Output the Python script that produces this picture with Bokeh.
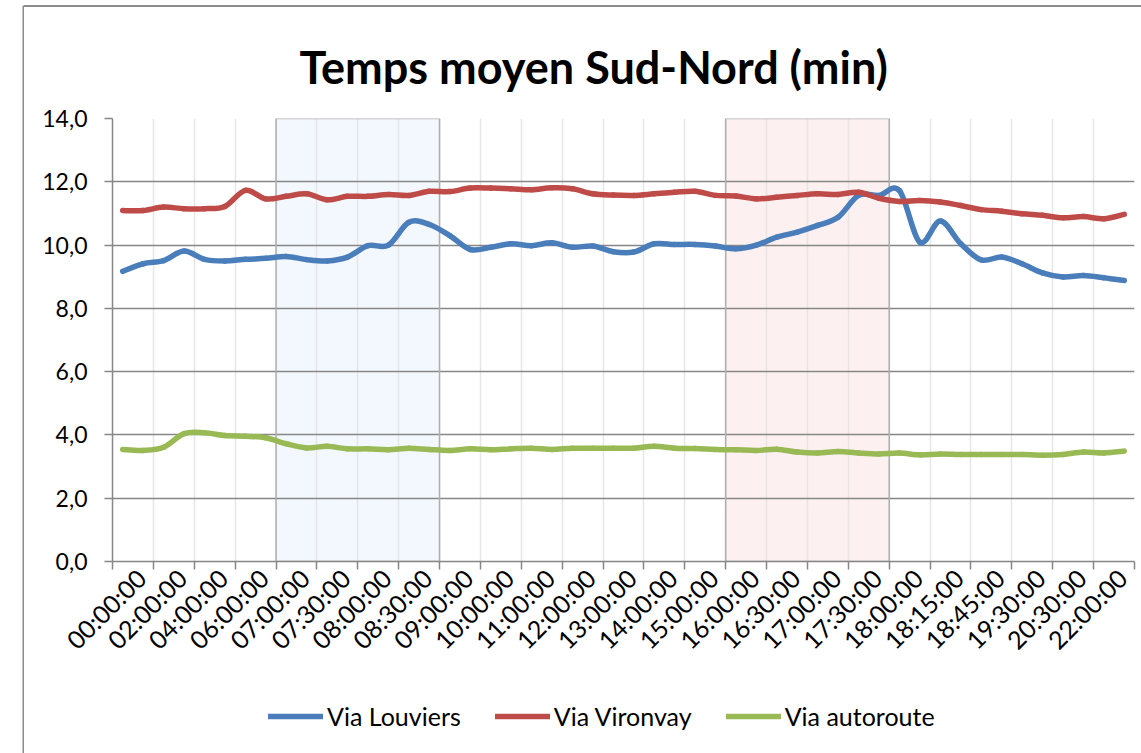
import numpy as np
from math import pi
from bokeh.plotting import figure
from bokeh.layouts import column, row
from bokeh.models import FixedTicker, Range1d, Legend, LegendItem, Spacer
from bokeh.embed import file_html
from bokeh.resources import INLINE

# ---------------- data ----------------
categories = ["00:00:00", "01:00:00", "02:00:00", "03:00:00", "04:00:00", "05:00:00",
              "06:00:00", "06:30:00", "07:00:00", "07:15:00", "07:30:00", "07:45:00",
              "08:00:00", "08:15:00", "08:30:00", "08:45:00", "09:00:00", "09:30:00",
              "10:00:00", "10:30:00", "11:00:00", "11:30:00", "12:00:00", "12:30:00",
              "13:00:00", "13:30:00", "14:00:00", "14:30:00", "15:00:00", "15:30:00",
              "16:00:00", "16:15:00", "16:30:00", "16:45:00", "17:00:00", "17:15:00",
              "17:30:00", "17:45:00", "18:00:00", "18:10:00", "18:15:00", "18:30:00",
              "18:45:00", "19:00:00", "19:30:00", "20:00:00", "20:30:00", "21:00:00",
              "22:00:00", "23:00:00"]

louviers = [9.17, 9.41, 9.51, 9.81, 9.55, 9.50, 9.55, 9.58, 9.64, 9.54,
            9.50, 9.62, 9.98, 10.00, 10.72, 10.65, 10.30, 9.86, 9.93, 10.04,
            9.98, 10.07, 9.93, 9.97, 9.79, 9.78, 10.04, 10.02, 10.02, 9.97,
            9.88, 10.00, 10.25, 10.41, 10.62, 10.88, 11.57, 11.57, 11.72, 10.09,
            10.76, 10.04, 9.53, 9.62, 9.41, 9.12, 8.99, 9.04, 8.97, 8.88]

vironvay = [11.09, 11.09, 11.20, 11.15, 11.15, 11.22, 11.73, 11.46, 11.54, 11.62,
            11.43, 11.54, 11.54, 11.60, 11.57, 11.70, 11.69, 11.80, 11.80, 11.78,
            11.75, 11.81, 11.78, 11.62, 11.58, 11.57, 11.62, 11.67, 11.70, 11.57,
            11.55, 11.46, 11.51, 11.57, 11.62, 11.60, 11.67, 11.48, 11.38, 11.41,
            11.36, 11.25, 11.12, 11.07, 10.99, 10.94, 10.86, 10.90, 10.83, 10.97]

autoroute = [3.54, 3.51, 3.61, 4.04, 4.07, 3.98, 3.96, 3.91, 3.72, 3.59,
             3.64, 3.56, 3.56, 3.53, 3.58, 3.54, 3.51, 3.56, 3.53, 3.56,
             3.58, 3.54, 3.58, 3.58, 3.58, 3.58, 3.64, 3.58, 3.57, 3.54,
             3.53, 3.51, 3.55, 3.46, 3.43, 3.48, 3.43, 3.40, 3.43, 3.37,
             3.40, 3.38, 3.38, 3.38, 3.38, 3.36, 3.38, 3.46, 3.43, 3.49]

series_names = ["Via Louviers", "Via Vironvay", "Via autoroute"]
y_ticks = [0, 2, 4, 6, 8, 10, 12, 14]
y_tick_labels = ["0,0", "2,0", "4,0", "6,0", "8,0", "10,0", "12,0", "14,0"]
am_peak = ("07:00:00", "08:45:00")
pm_peak = ("16:00:00", "17:45:00")
title_text = "Temps moyen Sud-Nord (min)"

# ---------------- styles / layout ----------------
FONT = "Lato"
colors = ["#4A7EBB", "#BE4B48", "#98B954"]
GRID_DARK = "#868686"
GRID_LIGHT = "#E6E6E6"
BORDER_COLOR = "#8C8C8C"
LEFT_STRIP = 24   # white gap + 2px outer chart border on the left
TOP_GAP = 5       # white gap above the top outer border
TOP_LINE = 2      # top outer border thickness
W = 1117          # width of the chart column
H_MAIN = 673
H_LEG = 73
LINE_W = 5.5

n = len(categories)
xs = np.arange(n, dtype=float)


def blank_fig(width, height, **kw):
    f = figure(width=width, height=height, output_backend="svg", toolbar_location=None,
               title=None, x_range=Range1d(0, 1), y_range=Range1d(0, 1),
               x_axis_location=None, y_axis_location=None,
               min_border=0, min_border_left=0, min_border_right=0,
               min_border_top=0, min_border_bottom=0,
               outline_line_color=None, border_fill_color="white", **kw)
    f.grid.visible = False
    return f


p = figure(width=W, height=H_MAIN, output_backend="svg", toolbar_location=None,
           x_range=Range1d(-0.5, n - 0.5), y_range=Range1d(y_ticks[0], y_ticks[-1]),
           min_border_left=88, min_border_right=7, min_border_top=111,
           min_border_bottom=119, background_fill_color="white",
           border_fill_color="white", outline_line_color=None)

# title
p.title.text = title_text
p.title.text_font = FONT
p.title.text_font_size = "45px"
p.title.text_font_style = "bold"
p.title.text_color = "black"
p.title.align = "left"
p.title.offset = 187
p.title.standoff = 50

# y axis
p.yaxis.ticker = FixedTicker(ticks=y_ticks)
p.yaxis.major_label_overrides = dict(zip(y_ticks, y_tick_labels))
p.yaxis.major_label_text_font = FONT
p.yaxis.major_label_text_font_size = "23px"
p.yaxis.major_label_text_color = "black"
p.yaxis.axis_line_color = GRID_DARK
p.yaxis.axis_line_width = 1.5
p.yaxis.major_tick_line_color = GRID_DARK
p.yaxis.major_tick_line_width = 1.5
p.yaxis.major_tick_out = 8
p.yaxis.major_tick_in = 0
p.yaxis.minor_tick_line_color = None
p.yaxis.major_label_standoff = 17

# x axis: a label every second category, tick marks between category pairs
label_idx = list(range(0, n, 2))
label_pos = [i + 0.9 for i in label_idx]
boundaries = [i - 0.5 for i in range(0, n + 1, 2)]
xaxis = p.xaxis[0]
xaxis.ticker = FixedTicker(ticks=label_pos, minor_ticks=boundaries)
xaxis.major_label_overrides = {pos: categories[i] for pos, i in zip(label_pos, label_idx)}
xaxis.major_label_orientation = pi / 4
xaxis.major_label_text_font = FONT
xaxis.major_label_text_font_size = "25px"
xaxis.major_label_text_color = "black"
xaxis.major_tick_line_color = None
xaxis.major_tick_out = 0
xaxis.major_tick_in = 0
xaxis.minor_tick_line_color = GRID_DARK
xaxis.minor_tick_line_width = 1.5
xaxis.minor_tick_out = 8
xaxis.minor_tick_in = 0
xaxis.major_label_standoff = 4
xaxis.axis_line_color = GRID_DARK
xaxis.axis_line_width = 1.5

# grids
p.ygrid.ticker = FixedTicker(ticks=y_ticks)
p.ygrid.grid_line_color = GRID_DARK
p.ygrid.grid_line_width = 1.5
p.xgrid.ticker = FixedTicker(ticks=boundaries)
p.xgrid.grid_line_color = GRID_LIGHT
p.xgrid.grid_line_width = 1.5

# shaded peak periods
for (start, end), fill in [(am_peak, "#F3F8FE"), (pm_peak, "#FCF0F0")]:
    l = categories.index(start) - 0.5
    r = categories.index(end) + 0.5
    p.quad(left=[l], right=[r], bottom=[y_ticks[0]], top=[y_ticks[-1]],
           fill_color=fill, line_color=None, level="image")
    p.quad(left=[l], right=[r], bottom=[y_ticks[0]], top=[y_ticks[-1]],
           fill_color=None, line_color="#AFAFAF", line_width=1.5)


# smoothed lines (Excel-like smoothing) via bezier segments
def bezier_args(vals):
    v = np.asarray(vals, dtype=float)
    m = len(v)
    pv = np.concatenate([[v[0]], v, [v[-1]]])
    px = np.concatenate([[xs[0]], xs, [xs[-1]]])
    return dict(
        x0=px[1:m], y0=pv[1:m],
        x1=px[2:m + 1], y1=pv[2:m + 1],
        cx0=px[1:m] + (px[2:m + 1] - px[0:m - 1]) / 6.0,
        cy0=pv[1:m] + (pv[2:m + 1] - pv[0:m - 1]) / 6.0,
        cx1=px[2:m + 1] - (px[3:m + 2] - px[1:m]) / 6.0,
        cy1=pv[2:m + 1] - (pv[3:m + 2] - pv[1:m]) / 6.0,
    )


all_series = [louviers, vironvay, autoroute]
for vals, col in zip(all_series, colors):
    p.bezier(line_color=col, line_width=LINE_W, line_cap="round", **bezier_args(vals))

# ---------------- legend strip below the chart ----------------
pl = blank_fig(W, H_LEG, background_fill_color="white")
# same series, outside this strip's view: they only give the legend its glyphs
leg_renderers = [pl.line(x=xs, y=vals, line_color=col, line_width=LINE_W, line_cap="round")
                 for vals, col in zip(all_series, colors)]
legend = Legend(items=[LegendItem(label=nm, renderers=[r])
                       for nm, r in zip(series_names, leg_renderers)],
                location=(156, 22), orientation="horizontal",
                glyph_width=55, glyph_height=24, label_height=24, label_standoff=4,
                spacing=34, padding=0, margin=0, border_line_color=None,
                background_fill_alpha=0, label_text_font=FONT,
                label_text_font_size="25px", label_text_color="black")
pl.add_layout(legend)

# ---------------- outer chart border (left and top edges) ----------------
left_strip = blank_fig(LEFT_STRIP, TOP_GAP + TOP_LINE + H_MAIN + H_LEG,
                       background_fill_color=BORDER_COLOR)
left_strip.min_border_left = LEFT_STRIP - 2
left_strip.min_border_top = TOP_GAP
top_gap = Spacer(width=W, height=TOP_GAP)
top_line = Spacer(width=W, height=TOP_LINE, styles={"background-color": BORDER_COLOR})

layout = row(left_strip, column(top_gap, top_line, p, pl, spacing=0), spacing=0)
open("out.html", "w").write(file_html(layout, INLINE))
